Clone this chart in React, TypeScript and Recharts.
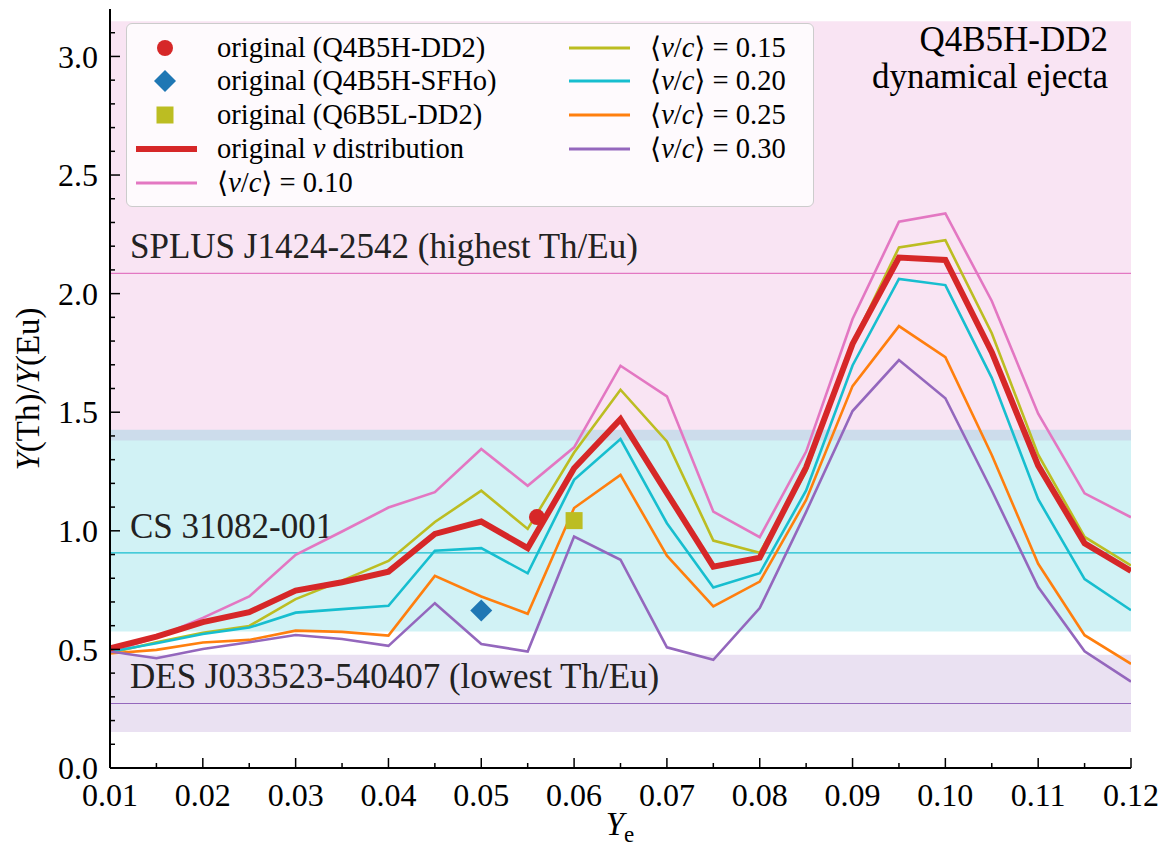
import React from "react";
import {
  ComposedChart,
  Line,
  Scatter,
  XAxis,
  YAxis,
  ReferenceArea,
  ReferenceLine,
  Legend,
} from "recharts";

const SERIF = "Liberation Serif, DejaVu Serif, serif";

// electron fraction grid
const yeGrid = [
  0.01, 0.015, 0.02, 0.025, 0.03, 0.035, 0.04, 0.045, 0.05, 0.055, 0.06, 0.065,
  0.07, 0.075, 0.08, 0.085, 0.09, 0.095, 0.1, 0.105, 0.11, 0.115, 0.12,
];

// Y(Th)/Y(Eu) for each velocity assumption
const originalV = [
  0.505, 0.554, 0.615, 0.657, 0.748, 0.783, 0.828, 0.987, 1.039, 0.927, 1.264,
  1.471, 1.159, 0.849, 0.887, 1.268, 1.788, 2.152, 2.142, 1.753, 1.275, 0.947,
  0.831,
];
const vc010 = [
  0.49, 0.55, 0.633, 0.723, 0.899, 0.997, 1.098, 1.163, 1.345, 1.19, 1.352,
  1.696, 1.567, 1.081, 0.973, 1.334, 1.893, 2.303, 2.338, 1.969, 1.494, 1.158,
  1.057,
];
const vc015 = [
  0.485, 0.53, 0.57, 0.599, 0.712, 0.79, 0.873, 1.037, 1.169, 1.008, 1.33,
  1.595, 1.377, 0.959, 0.908, 1.25, 1.79, 2.195, 2.225, 1.833, 1.321, 0.974,
  0.854,
];
const vc020 = [
  0.49, 0.526, 0.565, 0.592, 0.655, 0.67, 0.684, 0.916, 0.927, 0.821, 1.215,
  1.387, 1.032, 0.761, 0.821, 1.17, 1.697, 2.062, 2.036, 1.645, 1.133, 0.796,
  0.665,
];
const vc025 = [
  0.483, 0.498, 0.529, 0.54, 0.579, 0.574, 0.558, 0.81, 0.723, 0.65, 1.096,
  1.236, 0.895, 0.681, 0.786, 1.13, 1.61, 1.863, 1.732, 1.32, 0.861, 0.56,
  0.439,
];
const vc030 = [
  0.491, 0.463, 0.502, 0.53, 0.561, 0.544, 0.515, 0.695, 0.523, 0.491, 0.976,
  0.878, 0.509, 0.456, 0.674, 1.08, 1.505, 1.72, 1.559, 1.17, 0.763, 0.492,
  0.364,
];

// single models
const q4b5hDD2 = [{ ye: 0.056, ratio: 1.058 }];
const q4b5hSFHo = [{ ye: 0.05, ratio: 0.664 }];
const q6b5lDD2 = [{ ye: 0.06, ratio: 1.043 }];

// observed stars: [low, high] and measured value
const splusBand = [1.381, 3.148];
const splusValue = 2.085;
const csBand = [0.575, 1.426];
const csValue = 0.907;
const desBand = [0.152, 0.477];
const desValue = 0.272;

const xTicks = [
  0.01, 0.015, 0.02, 0.025, 0.03, 0.035, 0.04, 0.045, 0.05, 0.055, 0.06, 0.065,
  0.07, 0.075, 0.08, 0.085, 0.09, 0.095, 0.1, 0.105, 0.11, 0.115, 0.12,
];
const yTicks = [
  0, 0.1, 0.2, 0.3, 0.4, 0.5, 0.6, 0.7, 0.8, 0.9, 1.0, 1.1, 1.2, 1.3, 1.4, 1.5,
  1.6, 1.7, 1.8, 1.9, 2.0, 2.1, 2.2, 2.3, 2.4, 2.5, 2.6, 2.7, 2.8, 2.9, 3.0, 3.1,
];

const data = yeGrid.map((ye, i) => ({
  ye,
  orig: originalV[i],
  v10: vc010[i],
  v15: vc015[i],
  v20: vc020[i],
  v25: vc025[i],
  v30: vc030[i],
}));

const isMajorX = (v: number) => Math.abs(v * 100 - Math.round(v * 100)) < 1e-6;
const isMajorY = (v: number) => Math.abs(v * 2 - Math.round(v * 2)) < 1e-6;

const BottomTick = ({ x, y, payload }: any) => {
  const major = isMajorX(payload.value);
  return (
    <g>
      <line x1={x} x2={x} y1={y} y2={y - (major ? 10 : 5)} stroke="#000" strokeWidth={1.5} />
      {major && (
        <text x={x} y={y + 38} textAnchor="middle" fontSize={32} fontFamily={SERIF} fill="#000">
          {payload.value.toFixed(2)}
        </text>
      )}
    </g>
  );
};

const TopTick = ({ x, y, payload }: any) => {
  const major = isMajorX(payload.value);
  return <line x1={x} x2={x} y1={y} y2={y + (major ? 10 : 5)} stroke="#000" strokeWidth={1.5} />;
};

const LeftTick = ({ x, y, payload }: any) => {
  const major = isMajorY(payload.value);
  return (
    <g>
      <line x1={x} x2={x + (major ? 10 : 5)} y1={y} y2={y} stroke="#000" strokeWidth={1.5} />
      {major && (
        <text x={x - 12} y={y} dy="0.35em" textAnchor="end" fontSize={32} fontFamily={SERIF} fill="#000">
          {payload.value.toFixed(1)}
        </text>
      )}
    </g>
  );
};

const RightTick = ({ x, y, payload }: any) => {
  const major = isMajorY(payload.value);
  return <line x1={x} x2={x - (major ? 10 : 5)} y1={y} y2={y} stroke="#000" strokeWidth={1.5} />;
};

const StarLabel = ({ viewBox, text }: any) => (
  <text x={viewBox.x + 20} y={viewBox.y - 15} fontSize={35} fontFamily={SERIF} fill="#222">
    {text}
  </text>
);

const ModelLabel = ({ viewBox }: any) => {
  const right = viewBox.x + viewBox.width - 23;
  return (
    <g fontSize={35} fontFamily={SERIF} fill="#000" textAnchor="end">
      <text x={right} y={viewBox.y + 30}>Q4B5H-DD2</text>
      <text x={right} y={viewBox.y + 67}>dynamical ejecta</text>
    </g>
  );
};

const YTitle = () => (
  <text
    x={28}
    y={389}
    transform="rotate(-90, 28, 389)"
    textAnchor="middle"
    dominantBaseline="central"
    fontSize={33}
    fontFamily={SERIF}
    fill="#000"
  >
    <tspan fontStyle="italic">Y</tspan>(Th)/<tspan fontStyle="italic">Y</tspan>(Eu)
  </text>
);

const XTitle = () => (
  <text x={620} y={835} textAnchor="middle" fontSize={33} fontFamily={SERIF} fill="#000">
    <tspan fontStyle="italic">Y</tspan>
    <tspan fontSize={23} dy={7}>e</tspan>
  </text>
);

const CircleMark = ({ cx, cy }: any) => <circle cx={cx} cy={cy} r={8} fill="#d62728" />;
const DiamondMark = ({ cx, cy }: any) => (
  <polygon
    points={`${cx},${cy - 11} ${cx + 11},${cy} ${cx},${cy + 11} ${cx - 11},${cy}`}
    fill="#1f77b4"
  />
);
const SquareMark = ({ cx, cy }: any) => (
  <rect x={cx - 8.5} y={cy - 8.5} width={17} height={17} fill="#bcbd22" />
);

const vc = (val: string) => (
  <>
    ⟨<i>v</i>/<i>c</i>⟩ = {val}
  </>
);

const legendEntries = [
  { col: 0, row: 0, kind: "circle", color: "#d62728", label: <>original (Q4B5H-DD2)</> },
  { col: 0, row: 1, kind: "diamond", color: "#1f77b4", label: <>original (Q4B5H-SFHo)</> },
  { col: 0, row: 2, kind: "square", color: "#bcbd22", label: <>original (Q6B5L-DD2)</> },
  { col: 0, row: 3, kind: "thick", color: "#d62728", label: <>original <i>v</i> distribution</> },
  { col: 0, row: 4, kind: "line", color: "#e377c2", label: vc("0.10") },
  { col: 1, row: 0, kind: "line", color: "#bcbd22", label: vc("0.15") },
  { col: 1, row: 1, kind: "line", color: "#17becf", label: vc("0.20") },
  { col: 1, row: 2, kind: "line", color: "#ff7f0e", label: vc("0.25") },
  { col: 1, row: 3, kind: "line", color: "#9467bd", label: vc("0.30") },
];

const Handle = ({ kind, color }: any) => {
  if (kind === "circle") return <circle cx={38} cy={17} r={8} fill={color} />;
  if (kind === "diamond")
    return <polygon points="38,6 49,17 38,28 27,17" fill={color} />;
  if (kind === "square") return <rect x={29.5} y={8.5} width={17} height={17} fill={color} />;
  return <line x1={9} x2={70} y1={17} y2={17} stroke={color} strokeWidth={kind === "thick" ? 6 : 3} />;
};

const LegendBox = () => (
  <div
    style={{
      position: "relative",
      width: 688,
      height: 184,
      boxSizing: "border-box",
      border: "1.5px solid #cccccc",
      borderRadius: 6,
      background: "rgba(255,255,255,0.8)",
      fontFamily: SERIF,
      fontSize: 28.5,
      color: "#000",
    }}
  >
    {legendEntries.map((e, i) => {
      const top = 23.7 + e.row * 33.7 - 17;
      const left = e.col === 0 ? 0 : 433;
      return (
        <div key={i} style={{ position: "absolute", top, left, height: 34 }}>
          <svg width={80} height={34} style={{ position: "absolute", left: 0, top: 0 }}>
            <Handle kind={e.kind} color={e.color} />
          </svg>
          <div style={{ position: "absolute", left: 90, top: 0, lineHeight: "34px", whiteSpace: "nowrap" }}>
            {e.label}
          </div>
        </div>
      );
    })}
  </div>
);

export default function App() {
  return (
    <div style={{ position: "absolute", left: 0, top: 0, fontFamily: SERIF }}>
      <ComposedChart width={1163} height={851} data={data} margin={{ top: 9, right: 32, left: 0, bottom: 0 }}>
        <XAxis
          dataKey="ye"
          type="number"
          domain={[0.01, 0.12]}
          allowDataOverflow
          ticks={xTicks}
          interval={0}
          tickSize={0}
          tickMargin={0}
          height={83}
          axisLine={{ stroke: "#000", strokeWidth: 2 }}
          tickLine={false}
          tick={<BottomTick />}
          label={<XTitle />}
        />
        <XAxis
          xAxisId="top"
          orientation="top"
          type="number"
          domain={[0.01, 0.12]}
          allowDataOverflow
          ticks={xTicks}
          interval={0}
          tickSize={0}
          tickMargin={0}
          height={0}
          axisLine={{ stroke: "#000", strokeWidth: 2 }}
          tickLine={false}
          tick={<TopTick />}
        />
        <YAxis
          type="number"
          domain={[0, 3.2]}
          allowDataOverflow
          ticks={yTicks}
          interval={0}
          tickSize={0}
          tickMargin={0}
          width={110}
          axisLine={{ stroke: "#000", strokeWidth: 2 }}
          tickLine={false}
          tick={<LeftTick />}
          label={<YTitle />}
        />
        <YAxis
          yAxisId="right"
          orientation="right"
          type="number"
          domain={[0, 3.2]}
          allowDataOverflow
          ticks={yTicks}
          interval={0}
          tickSize={0}
          tickMargin={0}
          width={0}
          axisLine={{ stroke: "#000", strokeWidth: 2 }}
          tickLine={false}
          tick={<RightTick />}
        />

        <ReferenceArea
          y1={splusBand[0]}
          y2={splusBand[1]}
          fill="#e377c2"
          fillOpacity={0.2}
          stroke="none"
          label={<ModelLabel />}
        />
        <ReferenceArea y1={csBand[0]} y2={csBand[1]} fill="#17becf" fillOpacity={0.2} stroke="none" />
        <ReferenceArea y1={desBand[0]} y2={desBand[1]} fill="#9467bd" fillOpacity={0.2} stroke="none" />
        <ReferenceLine
          y={splusValue}
          stroke="#e377c2"
          strokeWidth={1.2}
          label={<StarLabel text="SPLUS J1424-2542 (highest Th/Eu)" />}
        />
        <ReferenceLine y={csValue} stroke="#17becf" strokeWidth={1.2} label={<StarLabel text="CS 31082-001" />} />
        <ReferenceLine
          y={desValue}
          stroke="#9467bd"
          strokeWidth={1.2}
          label={<StarLabel text="DES J033523-540407 (lowest Th/Eu)" />}
        />

        <Line dataKey="v10" stroke="#e377c2" strokeWidth={2.6} dot={false} activeDot={false} isAnimationActive={false} />
        <Line dataKey="v15" stroke="#bcbd22" strokeWidth={2.6} dot={false} activeDot={false} isAnimationActive={false} />
        <Line dataKey="v20" stroke="#17becf" strokeWidth={2.6} dot={false} activeDot={false} isAnimationActive={false} />
        <Line dataKey="v25" stroke="#ff7f0e" strokeWidth={2.6} dot={false} activeDot={false} isAnimationActive={false} />
        <Line dataKey="v30" stroke="#9467bd" strokeWidth={2.6} dot={false} activeDot={false} isAnimationActive={false} />
        <Line dataKey="orig" stroke="#d62728" strokeWidth={6} dot={false} activeDot={false} isAnimationActive={false} />

        <Scatter data={q4b5hDD2} dataKey="ratio" shape={<CircleMark />} isAnimationActive={false} />
        <Scatter data={q4b5hSFHo} dataKey="ratio" shape={<DiamondMark />} isAnimationActive={false} />
        <Scatter data={q6b5lDD2} dataKey="ratio" shape={<SquareMark />} isAnimationActive={false} />

        <Legend
          layout="vertical"
          align="center"
          verticalAlign="middle"
          wrapperStyle={{ left: 126, top: 23, width: 688, height: 184 }}
          content={<LegendBox />}
        />
      </ComposedChart>
    </div>
  );
}
